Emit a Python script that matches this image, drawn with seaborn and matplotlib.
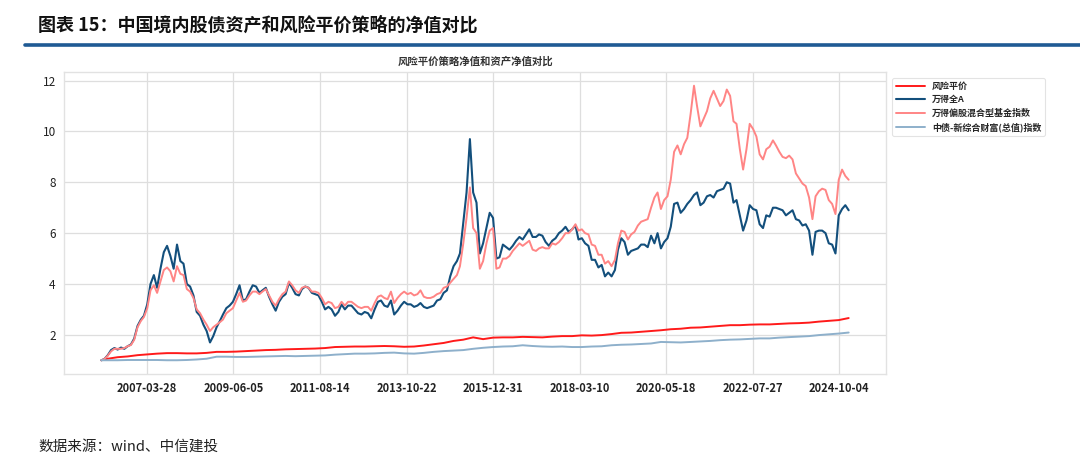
"""
plot.py
风险平价策略净值与股债资产净值对比（月度/季度读数）。
"""

import pandas as pd
import seaborn as sns
import matplotlib.pyplot as plt
from matplotlib.lines import Line2D

# --------------------------------------------------------------------------- #
# Data
# --------------------------------------------------------------------------- #
MONTHS = pd.date_range("2006-01-31", "2024-12-31", freq="ME")
QUARTERS = pd.DatetimeIndex(["2006-01-31"]).append(
    pd.date_range("2006-03-31", "2024-12-31", freq="QE")
)

# 万得全A, month-end values
WIND_ALL_A = [
    1.00, 1.05, 1.20, 1.40, 1.48, 1.42, 1.50, 1.45, 1.55, 1.62, 1.85, 2.35,  # 2006
    2.60, 2.75, 3.20, 4.00, 4.35, 3.85, 4.60, 5.25, 5.50, 5.10, 4.60, 5.55,  # 2007
    4.90, 4.80, 4.00, 3.90, 3.55, 2.90, 2.75, 2.40, 2.15, 1.70, 1.95, 2.30,  # 2008
    2.55, 2.80, 3.05, 3.15, 3.30, 3.60, 3.95, 3.35, 3.40, 3.70, 3.95, 3.90,  # 2009
    3.65, 3.75, 3.85, 3.50, 3.20, 2.95, 3.30, 3.50, 3.60, 4.05, 3.85, 3.60,  # 2010
    3.55, 3.80, 3.90, 3.85, 3.65, 3.60, 3.55, 3.30, 3.00, 3.10, 3.00, 2.75,  # 2011
    2.90, 3.20, 3.00, 3.15, 3.15, 3.00, 2.85, 2.80, 2.90, 2.85, 2.65, 3.00,  # 2012
    3.30, 3.35, 3.15, 3.10, 3.35, 2.80, 2.95, 3.15, 3.30, 3.20, 3.20, 3.10,  # 2013
    3.15, 3.25, 3.10, 3.05, 3.10, 3.15, 3.35, 3.40, 3.65, 3.75, 4.30, 4.70,  # 2014
    4.90, 5.20, 6.40, 7.60, 9.70, 7.60, 7.20, 5.20, 5.60, 6.20, 6.80, 6.60,  # 2015
    5.00, 5.05, 5.55, 5.45, 5.35, 5.50, 5.70, 5.85, 5.75, 5.95, 6.15, 5.85,  # 2016
    5.85, 5.95, 5.90, 5.65, 5.50, 5.70, 5.80, 6.00, 6.10, 6.25, 6.05, 6.15,  # 2017
    6.30, 5.75, 5.80, 5.60, 5.50, 4.95, 4.95, 4.65, 4.75, 4.30, 4.45, 4.30,  # 2018
    4.55, 5.35, 5.80, 5.65, 5.15, 5.30, 5.35, 5.40, 5.55, 5.55, 5.45, 5.90,  # 2019
    5.60, 6.00, 5.40, 5.65, 5.80, 6.25, 7.15, 7.20, 6.80, 6.95, 7.15, 7.30,  # 2020
    7.50, 7.60, 7.10, 7.20, 7.45, 7.50, 7.40, 7.65, 7.70, 7.75, 8.00, 7.95,  # 2021
    7.20, 7.30, 6.70, 6.10, 6.50, 7.10, 6.95, 6.90, 6.35, 6.20, 6.70, 6.65,  # 2022
    7.00, 7.00, 6.95, 6.90, 6.70, 6.80, 6.90, 6.55, 6.50, 6.30, 6.35, 6.10,  # 2023
    5.15, 6.05, 6.10, 6.10, 6.00, 5.60, 5.55, 5.20, 6.70, 6.95, 7.10, 6.90,  # 2024
]

# 万得偏股混合型基金指数, month-end values
FUND_INDEX = [
    1.00, 1.05, 1.18, 1.35, 1.45, 1.45, 1.45, 1.48, 1.55, 1.60, 1.80, 2.30,  # 2006
    2.55, 2.70, 3.05, 3.75, 3.95, 3.65, 4.10, 4.55, 4.65, 4.50, 4.10, 4.70,  # 2007
    4.40, 4.35, 3.80, 3.70, 3.45, 3.00, 2.85, 2.60, 2.40, 2.15, 2.30, 2.40,  # 2008
    2.50, 2.60, 2.85, 2.95, 3.05, 3.35, 3.65, 3.30, 3.35, 3.55, 3.70, 3.70,  # 2009
    3.60, 3.70, 3.80, 3.55, 3.30, 3.15, 3.40, 3.60, 3.70, 4.10, 3.95, 3.75,  # 2010
    3.65, 3.85, 3.90, 3.85, 3.70, 3.70, 3.65, 3.45, 3.20, 3.30, 3.25, 3.05,  # 2011
    3.10, 3.30, 3.15, 3.30, 3.30, 3.20, 3.10, 3.05, 3.10, 3.10, 2.95, 3.25,  # 2012
    3.50, 3.55, 3.45, 3.40, 3.70, 3.25, 3.45, 3.60, 3.70, 3.60, 3.65, 3.55,  # 2013
    3.60, 3.75, 3.50, 3.45, 3.45, 3.50, 3.60, 3.65, 3.85, 3.90, 4.05, 4.20,  # 2014
    4.35, 4.70, 5.60, 6.60, 7.80, 6.20, 6.00, 4.60, 4.90, 5.60, 6.10, 6.20,  # 2015
    4.60, 4.65, 5.00, 5.00, 5.10, 5.30, 5.45, 5.60, 5.50, 5.60, 5.70, 5.35,  # 2016
    5.30, 5.40, 5.45, 5.40, 5.40, 5.60, 5.55, 5.65, 5.80, 6.00, 6.00, 6.15,  # 2017
    6.35, 6.10, 6.15, 6.00, 5.95, 5.55, 5.50, 5.15, 5.15, 4.80, 4.90, 4.70,  # 2018
    4.95, 5.60, 6.10, 6.05, 5.75, 5.95, 6.05, 6.30, 6.45, 6.50, 6.55, 7.00,  # 2019
    7.40, 7.60, 6.95, 7.30, 7.45, 8.10, 9.20, 9.45, 9.10, 9.50, 9.75, 10.70,  # 2020
    11.80, 11.00, 10.20, 10.50, 10.80, 11.30, 11.60, 11.30, 11.00, 11.20, 11.65, 11.40,  # 2021
    10.40, 10.30, 9.30, 8.50, 9.30, 10.30, 10.10, 9.80, 9.10, 8.90, 9.30, 9.40,  # 2022
    9.65, 9.45, 9.20, 9.00, 8.95, 9.05, 8.90, 8.35, 8.15, 7.95, 7.85, 7.40,  # 2023
    6.55, 7.45, 7.65, 7.75, 7.70, 7.30, 7.15, 6.75, 8.10, 8.50, 8.25, 8.10,  # 2024
]

# 风险平价, start value then quarter-end values
RISK_PARITY = [
    1.00,
    1.06, 1.12, 1.15, 1.20,  # 2006
    1.23, 1.26, 1.28, 1.28,  # 2007
    1.27, 1.27, 1.29, 1.33,  # 2008
    1.33, 1.34, 1.36, 1.38,  # 2009
    1.40, 1.41, 1.43, 1.44,  # 2010
    1.45, 1.46, 1.48, 1.52,  # 2011
    1.53, 1.54, 1.54, 1.55,  # 2012
    1.56, 1.55, 1.53, 1.54,  # 2013
    1.58, 1.63, 1.68, 1.76,  # 2014
    1.81, 1.90, 1.83, 1.89,  # 2015
    1.90, 1.90, 1.92, 1.91,  # 2016
    1.90, 1.93, 1.95, 1.95,  # 2017
    1.98, 1.97, 1.99, 2.03,  # 2018
    2.08, 2.09, 2.12, 2.15,  # 2019
    2.18, 2.22, 2.24, 2.28,  # 2020
    2.29, 2.32, 2.35, 2.38,  # 2021
    2.38, 2.40, 2.41, 2.41,  # 2022
    2.43, 2.45, 2.46, 2.48,  # 2023
    2.52, 2.55, 2.58, 2.66,  # 2024
]

# 中债-新综合财富(总值)指数, start value then quarter-end values
BOND_INDEX = [
    1.00,
    1.00, 1.00, 1.01, 1.01,  # 2006
    1.01, 1.01, 1.00, 1.00,  # 2007
    1.01, 1.03, 1.06, 1.14,  # 2008
    1.14, 1.13, 1.13, 1.14,  # 2009
    1.15, 1.16, 1.17, 1.16,  # 2010
    1.17, 1.18, 1.19, 1.22,  # 2011
    1.24, 1.26, 1.26, 1.27,  # 2012
    1.29, 1.30, 1.27, 1.26,  # 2013
    1.29, 1.33, 1.36, 1.38,  # 2014
    1.40, 1.45, 1.49, 1.52,  # 2015
    1.54, 1.55, 1.59, 1.56,  # 2016
    1.54, 1.53, 1.54, 1.52,  # 2017
    1.52, 1.54, 1.55, 1.59,  # 2018
    1.61, 1.62, 1.64, 1.66,  # 2019
    1.72, 1.71, 1.70, 1.72,  # 2020
    1.74, 1.76, 1.79, 1.81,  # 2021
    1.82, 1.84, 1.86, 1.86,  # 2022
    1.89, 1.91, 1.93, 1.95,  # 2023
    1.99, 2.02, 2.05, 2.09,  # 2024
]

XTICKS = pd.date_range("2007-03-28", periods=9, freq="800D")
YTICKS = [2, 4, 6, 8, 10, 12]

# --------------------------------------------------------------------------- #
# Style
# --------------------------------------------------------------------------- #
sns.set_style("whitegrid", {"grid.color": "#dedede", "axes.edgecolor": "#e2e2e2"})
plt.rcParams["font.family"] = ["Noto Sans CJK SC", "DejaVu Sans"]

fig = plt.figure(figsize=(10.8, 4.68), dpi=100)
ax = fig.add_axes([0.0593, 0.2009, 0.7611, 0.6453])

sns.lineplot(x=QUARTERS, y=RISK_PARITY, ax=ax, color="#ff1a1a", linewidth=1.4, label="风险平价")
sns.lineplot(x=MONTHS, y=WIND_ALL_A, ax=ax, color="#134f7c", linewidth=1.5, label="万得全A")
sns.lineplot(x=MONTHS, y=FUND_INDEX, ax=ax, color="#ff8585", linewidth=1.4,
             label="万得偏股混合型基金指数")
sns.lineplot(x=QUARTERS, y=BOND_INDEX, ax=ax, color="#8eb0cb", linewidth=1.4,
             label="中债-新综合财富(总值)指数")

# Axes
ax.set_xlabel("")
ax.set_ylabel("")
ax.set_yticks(YTICKS)
ax.set_yticklabels([str(v) for v in YTICKS], fontsize=8.5, color="#222222")
ax.set_xticks(XTICKS)
ax.set_xticklabels([d.strftime("%Y-%m-%d") for d in XTICKS],
                   fontsize=8, fontweight="bold", color="#222222")
ax.tick_params(length=0, pad=6)
ax.grid(True, linewidth=0.9)
for spine in ax.spines.values():
    spine.set_linewidth(1.0)

ax.set_title("风险平价策略净值和资产净值对比", fontsize=7.5, fontweight="bold",
             color="#333333", pad=5)

leg = ax.legend(loc="upper left", bbox_to_anchor=(1.0, 1.0), borderaxespad=0.7,
                prop={"size": 6.5, "weight": "bold"}, handlelength=3.2,
                frameon=True, fancybox=True)
leg.get_frame().set_edgecolor("#dddddd")
leg.get_frame().set_linewidth(0.8)

# Header, rule and source note
fig.text(38 / 1080, 1 - 25 / 468, "图表 15：中国境内股债资产和风险平价策略的净值对比",
         fontsize=13, fontweight="bold", va="center", color="#111111")
fig.add_artist(Line2D([25 / 1080, 1.0], [1 - 44.5 / 468] * 2,
                      color="#1f5a94", linewidth=2.6, transform=fig.transFigure))
fig.text(38 / 1080, 1 - 447 / 468, "数据来源：wind、中信建投",
         fontsize=10.5, style="italic", va="center", color="#222222")

fig.savefig("out.png", dpi=100)
